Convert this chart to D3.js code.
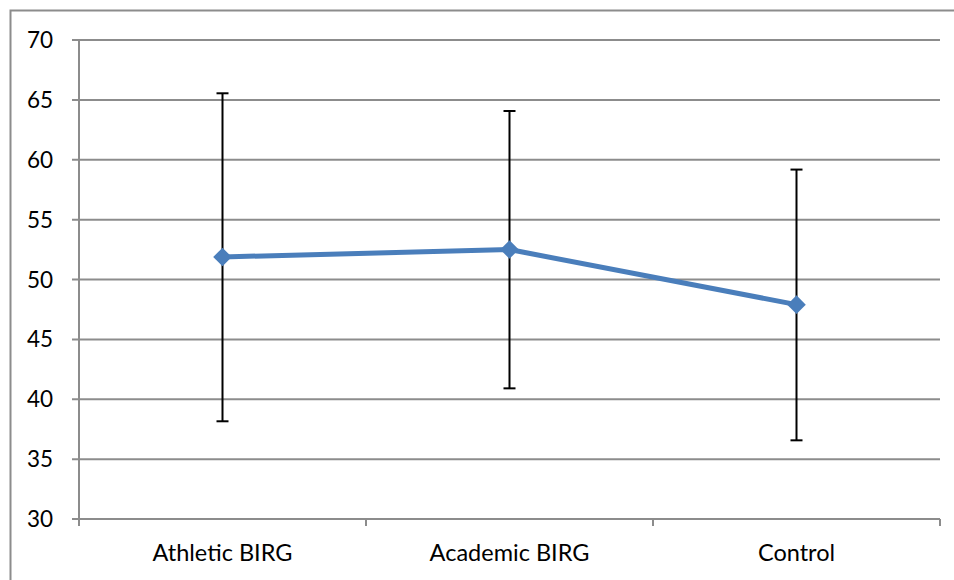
<!DOCTYPE html>
<html><head><meta charset="utf-8">
<script src="https://cdn.jsdelivr.net/npm/d3@7"></script>
<style>body{margin:0;background:#fff;} svg{display:block;} text{font-family:Lato, "Open Sans", sans-serif;}</style>
</head><body><svg id="c" width="954" height="580"></svg>
<script>
const categories = ["Athletic BIRG", "Academic BIRG", "Control"];
const means = [51.88, 52.5, 47.9];
const upper = [65.55, 64.07, 59.18];
const lower = [38.16, 40.91, 36.57];
const yTicks = [30, 35, 40, 45, 50, 55, 60, 65, 70];

(function () {
const svg = d3.select("#c");
const pLeft = 79, pRight = 940, pTop = 40, pBottom = 519;

// outer border
svg.append("path").attr("d", "M10.5,600 V10.5 H970").attr("fill", "none").attr("stroke", "#8c8c8c").attr("stroke-width", 2);

const x = d3.scaleBand().domain(categories).range([pLeft, pRight]).padding(0);
const y = d3.scaleLinear().domain([30, 70]).range([pBottom, pTop]);

// gridlines
svg.append("g").selectAll("line").data(yTicks).join("line")
  .attr("x1", pLeft - 7).attr("x2", pRight)
  .attr("y1", d => y(d)).attr("y2", d => y(d))
  .attr("stroke", "#8c8c8c").attr("stroke-width", 2);

// y axis line
svg.append("line").attr("x1", pLeft).attr("x2", pLeft).attr("y1", pTop).attr("y2", pBottom)
  .attr("stroke", "#8c8c8c").attr("stroke-width", 2);

// x axis ticks
const xt = [pLeft, ...categories.map(c => x(c) + x.bandwidth())];
svg.append("g").selectAll("line").data(xt).join("line")
  .attr("x1", d => d).attr("x2", d => d).attr("y1", pBottom).attr("y2", pBottom + 7)
  .attr("stroke", "#8c8c8c").attr("stroke-width", 2);

// y labels
svg.append("g").selectAll("text").data(yTicks).join("text")
  .attr("x", 53).attr("y", d => y(d)).attr("dy", "0.36em").attr("text-anchor", "end")
  .attr("font-size", 22.5).attr("fill", "#000").text(d => d);

// x labels
svg.append("g").selectAll("text").data(categories).join("text")
  .attr("x", d => x(d) + x.bandwidth() / 2).attr("y", 561).attr("text-anchor", "middle")
  .attr("font-size", 23.5).attr("fill", "#000").text(d => d);

const cx = i => x(categories[i]) + x.bandwidth() / 2;

// error bars
const eb = svg.append("g").attr("stroke", "#000").attr("stroke-width", 2);
categories.forEach((c, i) => {
  eb.append("line").attr("x1", cx(i)).attr("x2", cx(i)).attr("y1", y(upper[i])).attr("y2", y(lower[i]));
  eb.append("line").attr("x1", cx(i) - 6).attr("x2", cx(i) + 6).attr("y1", y(upper[i])).attr("y2", y(upper[i]));
  eb.append("line").attr("x1", cx(i) - 6).attr("x2", cx(i) + 6).attr("y1", y(lower[i])).attr("y2", y(lower[i]));
});

// line
const line = d3.line().x((d, i) => cx(i)).y(d => y(d));
svg.append("path").datum(means).attr("d", line).attr("fill", "none")
  .attr("stroke", "#4a7ebb").attr("stroke-width", 5).attr("stroke-linejoin", "round");

// markers
svg.append("g").selectAll("path").data(means).join("path")
  .attr("d", d3.symbol().type(d3.symbolDiamond2).size(220))
  .attr("transform", (d, i) => `translate(${cx(i)},${y(d)})`)
  .attr("fill", "#4a7ebb");
})();
</script></body></html>
